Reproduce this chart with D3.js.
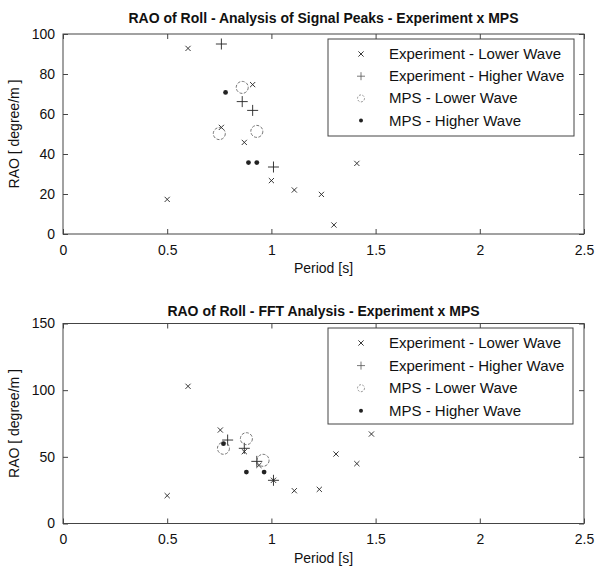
<!DOCTYPE html>
<html>
<head>
<meta charset="utf-8">
<script src="https://cdn.jsdelivr.net/npm/d3@7"></script>
<style>
  html, body { margin: 0; padding: 0; background: #fff; }
  svg { display: block; font-family: "Liberation Sans", Arial, sans-serif; }
</style>
</head>
<body>
<svg id="chart" width="597" height="568"></svg>
<script>
// ---- Signal peaks analysis (upper chart) ----
const peaksExpLowerPeriod = [0.50, 0.60, 0.76, 0.87, 0.91, 1.00, 1.11, 1.24, 1.30, 1.41];
const peaksExpLowerRAO    = [17.3, 92.8, 53.3, 45.8, 74.7, 26.7, 22.0, 19.8, 4.5, 35.3];
const peaksExpHigherPeriod = [0.76, 0.86, 0.91, 1.01];
const peaksExpHigherRAO    = [95.0, 66.2, 61.8, 33.5];
const peaksMpsLowerPeriod = [0.75, 0.86, 0.93];
const peaksMpsLowerRAO    = [50.2, 73.3, 51.3];
const peaksMpsHigherPeriod = [0.78, 0.89, 0.93];
const peaksMpsHigherRAO    = [70.8, 35.7, 35.7];

// ---- FFT analysis (lower chart) ----
const fftExpLowerPeriod = [0.50, 0.60, 0.755, 0.87, 0.94, 1.01, 1.11, 1.23, 1.31, 1.41, 1.48];
const fftExpLowerRAO    = [20.9, 102.9, 70.1, 53.9, 43.6, 32.4, 24.6, 25.6, 52.1, 44.9, 67.1];
const fftExpHigherPeriod = [0.79, 0.87, 0.93, 1.01];
const fftExpHigherRAO    = [62.6, 56.4, 46.6, 32.4];
const fftMpsLowerPeriod = [0.77, 0.88, 0.96];
const fftMpsLowerRAO    = [56.4, 63.6, 47.4];
const fftMpsHigherPeriod = [0.77, 0.88, 0.965];
const fftMpsHigherRAO    = [59.9, 38.6, 38.6];

// ---- Axis ticks and labels ----
const xTicks = [0, 0.5, 1, 1.5, 2, 2.5];
const peaksYTicks = [0, 20, 40, 60, 80, 100];
const fftYTicks = [0, 50, 100, 150];
const peaksTitle = "RAO of Roll - Analysis of Signal Peaks - Experiment x MPS";
const fftTitle = "RAO of Roll - FFT Analysis - Experiment x MPS";
const xLabel = "Period [s]";
const yLabel = "RAO [ degree/m ]";
const peaksLegend = ["Experiment - Lower Wave", "Experiment - Higher Wave", "MPS  - Lower Wave", "MPS - Higher Wave"];
const fftLegend = ["Experiment - Lower Wave", "Experiment - Higher Wave", "MPS - Lower Wave", "MPS - Higher Wave"];

const zip = (xs, ys) => xs.map((x, i) => ({ x, y: ys[i] }));

const svg = d3.select("#chart");
const ink = "#222";

// Marker glyphs; legend samples are drawn slightly smaller and lighter
function drawMarker(g, type, cx, cy, inLegend) {
  if (type === "x") {
    const s = 2.6;
    g.append("path")
      .attr("d", `M${cx - s},${cy - s}L${cx + s},${cy + s}M${cx - s},${cy + s}L${cx + s},${cy - s}`)
      .attr("stroke", ink).attr("stroke-width", 0.9).attr("fill", "none");
  } else if (type === "+") {
    const s = inLegend ? 4 : 5.5;
    g.append("path")
      .attr("d", `M${cx - s},${cy}L${cx + s},${cy}M${cx},${cy - s}L${cx},${cy + s}`)
      .attr("stroke", inLegend ? "#555" : ink).attr("stroke-width", inLegend ? 0.8 : 0.9).attr("fill", "none");
  } else if (type === "o") {
    g.append("circle").attr("cx", cx).attr("cy", cy).attr("r", inLegend ? 3.5 : 6)
      .attr("stroke", inLegend ? "#888" : "#666").attr("stroke-width", 0.9).attr("fill", "none")
      .attr("stroke-dasharray", inLegend ? "2,1.5" : "3,1.5");
  } else {
    g.append("circle").attr("cx", cx).attr("cy", cy).attr("r", inLegend ? 2 : 2.4).attr("fill", ink);
  }
}

function panel(opt) {
  const { top, bottom, left, right, yMax, yTicks, title, legend, series, legendBox, titleY } = opt;
  const x = d3.scaleLinear().domain([0, 2.5]).range([left, right]);
  const y = d3.scaleLinear().domain([0, yMax]).range([bottom, top]);
  const g = svg.append("g");

  // frame
  g.append("rect").attr("x", left).attr("y", top).attr("width", right - left).attr("height", bottom - top)
    .attr("fill", "none").attr("stroke", "#444").attr("stroke-width", 1);

  // axes with inward ticks (bottom/left labelled, top/right mirrored)
  const tl = 5;
  const axB = g.append("g").attr("transform", `translate(0,${bottom})`)
    .call(d3.axisBottom(x).tickValues(xTicks).tickFormat(d3.format("")).tickSize(-tl).tickPadding(tl + 6));
  const axT = g.append("g").attr("transform", `translate(0,${top})`)
    .call(d3.axisTop(x).tickValues(xTicks).tickFormat("").tickSize(-tl));
  const axL = g.append("g").attr("transform", `translate(${left},0)`)
    .call(d3.axisLeft(y).tickValues(yTicks).tickSize(-tl).tickPadding(tl + 3));
  const axR = g.append("g").attr("transform", `translate(${right},0)`)
    .call(d3.axisRight(y).tickValues(yTicks).tickFormat("").tickSize(-tl));
  [axB, axT, axL, axR].forEach(a => {
    a.select(".domain").remove();
    a.selectAll("line").attr("stroke", "#444");
    a.selectAll("text").attr("fill", "#111").attr("font-size", 14)
      .attr("font-family", "'Liberation Sans', Arial, sans-serif");
  });

  // title and axis labels
  g.append("text").attr("x", (left + right) / 2).attr("y", titleY)
    .attr("text-anchor", "middle").attr("font-weight", "bold").attr("font-size", 14)
    .attr("fill", "#111").text(title);
  g.append("text").attr("x", (left + right) / 2).attr("y", bottom + 39)
    .attr("text-anchor", "middle").attr("font-size", 14).attr("fill", "#111").text(xLabel);
  g.append("text").attr("transform", `translate(19,${(top + bottom) / 2}) rotate(-90)`)
    .attr("text-anchor", "middle").attr("font-size", 14).attr("fill", "#111").text(yLabel);

  // data marks
  const marks = g.append("g");
  series.forEach(s => {
    s.data.forEach(d => drawMarker(marks, s.type, x(d.x), y(d.y), false));
  });

  // legend
  const lg = g.append("g");
  lg.append("rect").attr("x", legendBox.x).attr("y", legendBox.y)
    .attr("width", legendBox.w).attr("height", legendBox.h)
    .attr("fill", "#fff").attr("stroke", "#444").attr("stroke-width", 1);
  series.forEach((s, i) => {
    const cy = legendBox.y + 15 + i * legendBox.step;
    drawMarker(lg, s.type, legendBox.x + 33, cy, true);
    lg.append("text").attr("x", legendBox.x + 61).attr("y", cy + 5)
      .attr("font-size", 15).attr("fill", "#111").text(legend[i]);
  });
}

panel({
  top: 34, bottom: 234, left: 63, right: 584, yMax: 100, yTicks: peaksYTicks,
  title: peaksTitle, titleY: 23, legend: peaksLegend,
  legendBox: { x: 328, y: 39, w: 246, h: 97, step: 22.2 },
  series: [
    { type: "x", data: zip(peaksExpLowerPeriod, peaksExpLowerRAO) },
    { type: "+", data: zip(peaksExpHigherPeriod, peaksExpHigherRAO) },
    { type: "o", data: zip(peaksMpsLowerPeriod, peaksMpsLowerRAO) },
    { type: ".", data: zip(peaksMpsHigherPeriod, peaksMpsHigherRAO) }
  ]
});

panel({
  top: 323.5, bottom: 523.5, left: 63, right: 584, yMax: 150, yTicks: fftYTicks,
  title: fftTitle, titleY: 316, legend: fftLegend,
  legendBox: { x: 328, y: 328, w: 245, h: 96, step: 22.6 },
  series: [
    { type: "x", data: zip(fftExpLowerPeriod, fftExpLowerRAO) },
    { type: "+", data: zip(fftExpHigherPeriod, fftExpHigherRAO) },
    { type: "o", data: zip(fftMpsLowerPeriod, fftMpsLowerRAO) },
    { type: ".", data: zip(fftMpsHigherPeriod, fftMpsHigherRAO) }
  ]
});
</script>
</body>
</html>
